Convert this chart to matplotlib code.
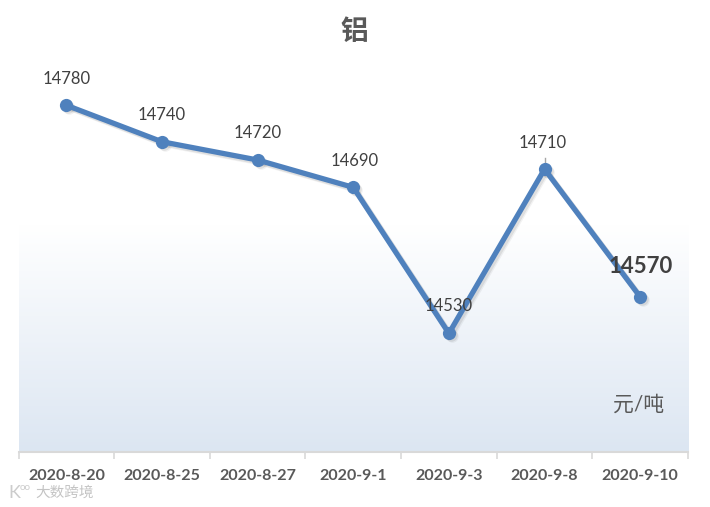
"""Aluminium price line chart, recreated with matplotlib."""

import matplotlib

matplotlib.use("Agg")
import matplotlib.pyplot as plt
import matplotlib.transforms as mtrans
import numpy as np

plt.rcParams["font.family"] = ["Lato", "Noto Sans CJK SC", "DejaVu Sans"]

DATES = ["2020-8-20", "2020-8-25", "2020-8-27", "2020-9-1", "2020-9-3", "2020-9-8", "2020-9-10"]
PRICES = [14780, 14740, 14720, 14690, 14530, 14710, 14570]
W, H = 710, 507

fig = plt.figure(figsize=(W / 100, H / 100), dpi=100)
ax = fig.add_axes([18.5 / W, 1 - 452 / H, (688 - 18.5) / W, (452 - 14) / H])
xs = np.arange(len(DATES))

# background fade, white at the top to pale blue at the axis
grad = np.linspace(0, 1, 256).reshape(-1, 1)
cmap = matplotlib.colors.LinearSegmentedColormap.from_list("fade", ["#ffffff", "#dce6f2"])
ax.imshow(grad, extent=(0, 1, 0, (452 - 225) / (452 - 14)), transform=ax.transAxes,
          cmap=cmap, aspect="auto", zorder=0)
ax.set_xlim(-0.5, 6.5)
ax.set_ylim(14400, 14880)

# soft drop shadow under the line and markers
for off, alpha in [(2, 0.08), (3, 0.05)]:
    shift = ax.transData + mtrans.Affine2D().translate(off, -off)
    ax.plot(xs, PRICES, "-o", color="#000000", alpha=alpha, lw=3.8, ms=9, mew=0, zorder=2,
            transform=shift)
ax.plot(xs, PRICES, "-o", color="#4f81bd", lw=3.8, ms=9.5, mew=0, zorder=3,
        solid_joinstyle="round", clip_on=False)

for sp in ["top", "left", "right"]:
    ax.spines[sp].set_visible(False)
ax.spines["bottom"].set_color("#d9d9d9")
ax.spines["bottom"].set_linewidth(1.5)
ax.set_yticks([])
ax.set_xticks(np.arange(-0.5, 7, 1))
ax.set_xticklabels([])
ax.tick_params(axis="x", length=5, width=1.2, color="#d9d9d9")
ax.set_xticks(xs, minor=True)
ax.set_xticklabels(DATES, minor=True, fontsize=11.5, fontweight="bold", color="#595959")
ax.tick_params(axis="x", which="minor", length=0, pad=12)

# value labels, nudged by hand like the original
offsets = [(0, 26), (0, 27), (0, 27), (1, 26), (0, 27), (-2, 26)]
for i, (dx, dy) in enumerate(offsets):
    ax.annotate(str(PRICES[i]), (xs[i], PRICES[i]), textcoords="offset pixels", xytext=(dx, dy),
                ha="center", va="center", fontsize=12, color="#404040", zorder=4)
ax.annotate(str(PRICES[6]), (xs[6], PRICES[6]), textcoords="offset pixels", xytext=(0, 30),
            ha="center", va="center", fontsize=16, fontweight="bold", color="#404040", zorder=4)
ax.plot([xs[5], xs[5]], [14710, 14722], color="#a6a6a6", lw=1, zorder=2)

fig.text(354.5 / W, 1 - 32 / H, "铝", ha="center", va="center", fontsize=20, fontweight="bold",
         color="#595959")
fig.text(639 / W, 1 - 405 / H, "元/吨", ha="center", va="center", fontsize=15, color="#595959")
fig.text(65 / W, 1 - 493 / H, "大数跨境", ha="center", va="center", fontsize=10.5,
         color="#c4c4c4", zorder=5)
fig.text(14 / W, 1 - 493 / H, "K", ha="center", va="center", fontsize=13, color="#cccccc")
fig.text(25 / W, 1 - 487 / H, "oo", ha="center", va="center", fontsize=7, color="#cccccc")

fig.savefig("out.png", dpi=100)
